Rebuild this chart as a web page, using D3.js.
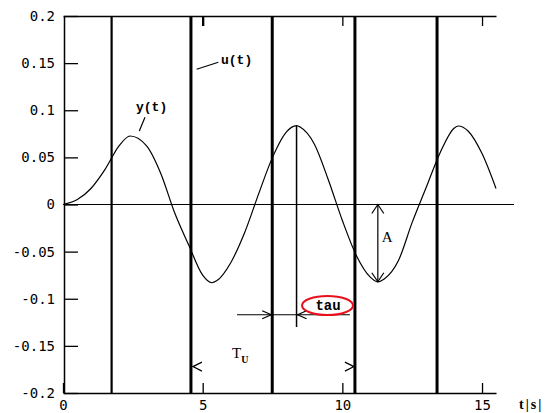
<!DOCTYPE html>
<html>
<head>
<meta charset="utf-8">
<script src="https://cdn.jsdelivr.net/npm/d3@7"></script>
<style>
  html, body { margin: 0; padding: 0; background: #fff; }
  svg { display: block; }
</style>
</head>
<body>
<svg id="chart" width="545" height="413"></svg>
<script>
// Step response y(t) of a system driven by a switching input u(t)
const yTimes  = [0, 0.5, 1, 1.5, 2, 2.4, 3, 3.5, 4, 4.5, 5, 5.32, 5.5, 6, 6.5, 7, 7.5, 8, 8.36, 8.5,
                 9, 9.5, 10, 10.5, 11, 11.27, 11.5, 12, 12.5, 13, 13.5, 14, 14.15, 14.5, 15, 15.5];
const yValues = [0, 0.005, 0.017, 0.037, 0.062, 0.0727, 0.062, 0.033, -0.009, -0.043, -0.075, -0.083, -0.081,
                 -0.062, -0.030, 0.011, 0.050, 0.077, 0.0836, 0.082, 0.064, 0.026, -0.017, -0.054, -0.077,
                 -0.082, -0.079, -0.060, -0.019, 0.018, 0.055, 0.081, 0.0833, 0.078, 0.054, 0.017];

// switching instants of u(t)
const uTimes = [1.74, 4.58, 7.49, 10.45, 13.39];

// axis ticks
const xTicks = [0, 5, 10, 15];
const xTickLabels = ["0", "5", "10", "15"];
const yTicks = [0.2, 0.15, 0.1, 0.05, 0, -0.05, -0.1, -0.15, -0.2];
const yTickLabels = ["0.2", "0.15", "0.1", "0.05", "0", "-0.05", "-0.1", "-0.15", "-0.2"];

// annotated quantities
const peakT = 8.36, peakY = 0.0836;     // response peak used for tau
const troughT = 11.27, troughY = -0.082; // amplitude A
const tauLevel = -0.117, tauLineFrom = 6.23, tauLineTo = 10.27, peakLineBottom = -0.13;
const periodLevel = -0.172;              // T_U marker height

const svg = d3.select("#chart");
const x = d3.scaleLinear().domain([0, 15.5]).range([63, 496]);
const y = d3.scaleLinear().domain([-0.2, 0.2]).range([393, 16]);

const axisFont = "'DejaVu Sans Mono', 'Liberation Mono', monospace";

// left axis with inward ticks
const gy = svg.append("g").attr("transform", `translate(${x(0) + 1},0)`)
  .call(d3.axisLeft(y).tickValues(yTicks).tickSize(-14).tickSizeOuter(0).tickPadding(9)
    .tickFormat((d, i) => yTickLabels[i]));
// bottom axis
const gx = svg.append("g").attr("transform", `translate(0,${y(-0.2)})`)
  .call(d3.axisBottom(x).tickValues(xTicks).tickSize(-10).tickSizeOuter(0).tickPadding(7)
    .tickFormat((d, i) => xTickLabels[i]));
// top axis, ticks only
const gt = svg.append("g").attr("transform", `translate(0,${y(0.2)})`)
  .call(d3.axisTop(x).tickValues(xTicks.slice(1)).tickSize(-10).tickSizeOuter(0).tickFormat(""));

[gy, gx, gt].forEach(g => {
  g.selectAll("path.domain").attr("stroke", "#000").attr("stroke-width", 1.5);
  g.selectAll(".tick line").attr("stroke", "#000").attr("stroke-width", 1.3);
  g.selectAll(".tick text").attr("fill", "#000").style("font-family", axisFont).style("font-size", "14px");
});
gt.selectAll(".tick line").filter(d => d === 5).attr("stroke-width", 2.3);

// zero line
svg.append("line")
  .attr("x1", x(0)).attr("x2", x(15.5) + 18)
  .attr("y1", y(0)).attr("y2", y(0))
  .attr("stroke", "#000").attr("stroke-width", 1.2);

// u(t) switching lines
svg.append("g").selectAll("line").data(uTimes).join("line")
  .attr("x1", d => x(d)).attr("x2", d => x(d))
  .attr("y1", y(0.2)).attr("y2", y(-0.2))
  .attr("stroke", "#000")
  .attr("stroke-width", (d, i) => i === 0 ? 2.2 : 3);

// y(t) response curve
const pts = yTimes.map((t, i) => [t, yValues[i]]);
svg.append("path").datum(pts)
  .attr("fill", "none").attr("stroke", "#000").attr("stroke-width", 1.2)
  .attr("d", d3.line().x(d => x(d[0])).y(d => y(d[1])).curve(d3.curveMonotoneX));

// helpers for open chevron arrowheads
function chevron(tx, ty, dir, w, h) {
  let p;
  if (dir === "right") p = [[tx - w, ty - h / 2], [tx, ty], [tx - w, ty + h / 2]];
  if (dir === "left")  p = [[tx + w, ty - h / 2], [tx, ty], [tx + w, ty + h / 2]];
  if (dir === "up")    p = [[tx - w / 2, ty + h], [tx, ty], [tx + w / 2, ty + h]];
  if (dir === "down")  p = [[tx - w / 2, ty - h], [tx, ty], [tx + w / 2, ty - h]];
  svg.append("polyline").attr("points", p.map(q => q.join(",")).join(" "))
    .attr("fill", "none").attr("stroke", "#000").attr("stroke-width", 1.2);
}

const labelFont = "'Liberation Mono', 'DejaVu Sans Mono', monospace";
const serifFont = "'Liberation Serif', 'DejaVu Serif', serif";

// u(t) label and leader
svg.append("line").attr("x1", 196.7).attr("y1", 69.3).attr("x2", 218.3).attr("y2", 62.3)
  .attr("stroke", "#000").attr("stroke-width", 1.2);
svg.append("text").attr("x", 221).attr("y", 64)
  .style("font-family", labelFont).style("font-weight", "bold").style("font-size", "13px")
  .attr("fill", "#000").text("u(t)");

// y(t) label and leader
svg.append("line").attr("x1", 145).attr("y1", 117.3).attr("x2", 139.3).attr("y2", 131)
  .attr("stroke", "#000").attr("stroke-width", 1.2);
svg.append("text").attr("x", 136).attr("y", 111)
  .style("font-family", labelFont).style("font-weight", "bold").style("font-size", "13px")
  .attr("fill", "#000").text("y(t)");

// amplitude A
svg.append("line").attr("x1", x(troughT)).attr("x2", x(troughT))
  .attr("y1", y(0)).attr("y2", y(troughY))
  .attr("stroke", "#000").attr("stroke-width", 1.2);
chevron(x(troughT), y(0), "up", 12, 9);
chevron(x(troughT), y(troughY), "down", 12, 9);
svg.append("text").attr("x", x(troughT) + 4).attr("y", 242)
  .style("font-family", serifFont).style("font-size", "15px").attr("fill", "#000").text("A");

// tau: peak marker and horizontal measure
svg.append("line").attr("x1", x(peakT)).attr("x2", x(peakT))
  .attr("y1", y(peakY)).attr("y2", y(peakLineBottom))
  .attr("stroke", "#000").attr("stroke-width", 1.5);
svg.append("line").attr("x1", x(tauLineFrom)).attr("x2", x(tauLineTo))
  .attr("y1", y(tauLevel)).attr("y2", y(tauLevel))
  .attr("stroke", "#000").attr("stroke-width", 1.2);
chevron(x(uTimes[2]) - 1, y(tauLevel), "right", 9, 8);
chevron(x(peakT) + 1, y(tauLevel), "left", 9, 8);
svg.append("ellipse").attr("cx", 327.5).attr("cy", 305.5).attr("rx", 25.5).attr("ry", 9.5)
  .attr("fill", "#fff").attr("stroke", "#e8111b").attr("stroke-width", 2);
svg.append("text").attr("x", 328).attr("y", 310).attr("text-anchor", "middle")
  .style("font-family", labelFont).style("font-weight", "bold").style("font-size", "14px")
  .attr("fill", "#000").text("tau");

// period T_U
chevron(x(uTimes[1]) + 2, y(periodLevel), "left", 9, 9);
chevron(x(uTimes[3]) - 1, y(periodLevel), "right", 9, 9);
const tu = svg.append("text").attr("x", 232).attr("y", 358)
  .style("font-family", serifFont).style("font-size", "15px").attr("fill", "#000");
tu.append("tspan").text("T");
tu.append("tspan").attr("dy", 5).style("font-size", "10px").style("font-weight", "bold").text("U");

// time unit label
svg.append("text").attr("x", 519).attr("y", 409)
  .style("font-family", serifFont).style("font-weight", "bold").style("font-size", "14px")
  .attr("fill", "#000").attr("letter-spacing", "2px").text("t|s|");
</script>
</body>
</html>
